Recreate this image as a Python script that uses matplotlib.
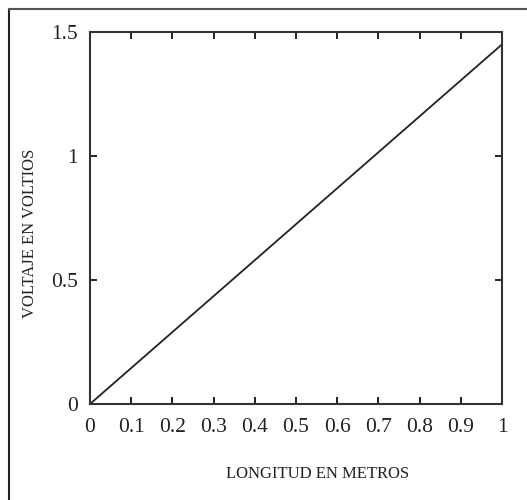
import numpy as np
import matplotlib
matplotlib.use("Agg")
import matplotlib.pyplot as plt
from matplotlib.lines import Line2D

# data
longitud = [0.0, 0.1, 0.2, 0.3, 0.4, 0.5, 0.6, 0.7, 0.8, 0.9, 1.0]
voltaje = [0.0, 0.145, 0.29, 0.435, 0.58, 0.725, 0.87, 1.015, 1.16, 1.305, 1.45]
xticks = [0, 0.1, 0.2, 0.3, 0.4, 0.5, 0.6, 0.7, 0.8, 0.9, 1]
xticklabels = ["0", "0.1", "0.2", "0.3", "0.4", "0.5", "0.6", "0.7", "0.8", "0.9", "1"]
yticks = [0, 0.5, 1, 1.5]
yticklabels = ["0", "0.5", "1", "1.5"]

plt.rcParams['font.family'] = ['Liberation Serif', 'DejaVu Serif']

W, H = 527, 500
fig = plt.figure(figsize=(W / 100, H / 100), dpi=100)

# outer frame (only top and left edges are visible)
fig.add_artist(Line2D([9 / W, 9 / W], [0, 1 - 9 / H], transform=fig.transFigure,
                      color='#222222', lw=1.5))
fig.add_artist(Line2D([9 / W, 1], [1 - 9 / H, 1 - 9 / H], transform=fig.transFigure,
                      color='#555555', lw=1.5))

left, right, top, bottom = 90, 502, 32, 404
ax = fig.add_axes([left / W, 1 - bottom / H, (right - left) / W, (bottom - top) / H])

ax.plot(longitud, voltaje, color='#222222', lw=1.3)

ax.set_xlim(0, 1)
ax.set_ylim(0, 1.5)
ax.set_xticks(xticks)
ax.set_xticklabels(xticklabels)
ax.set_yticks(yticks)
ax.set_yticklabels(yticklabels)
ax.tick_params(direction='in', length=5, width=1.4, labelsize=15.5,
               top=True, right=True, colors='#222222')
ax.tick_params(axis='x', pad=10)
ax.tick_params(axis='y', pad=9)
for s in ax.spines.values():
    s.set_linewidth(1.5)
    s.set_color('#333333')

ax.set_xlabel("LONGITUD EN METROS", fontsize=12, color='#222222')
ax.xaxis.set_label_coords(0.553, -0.168)
ax.set_ylabel("VOLTAJE EN VOLTIOS", fontsize=12, color='#222222')
ax.yaxis.set_label_coords(-0.125, 0.46)

fig.savefig("out.png", dpi=100, facecolor='white')
